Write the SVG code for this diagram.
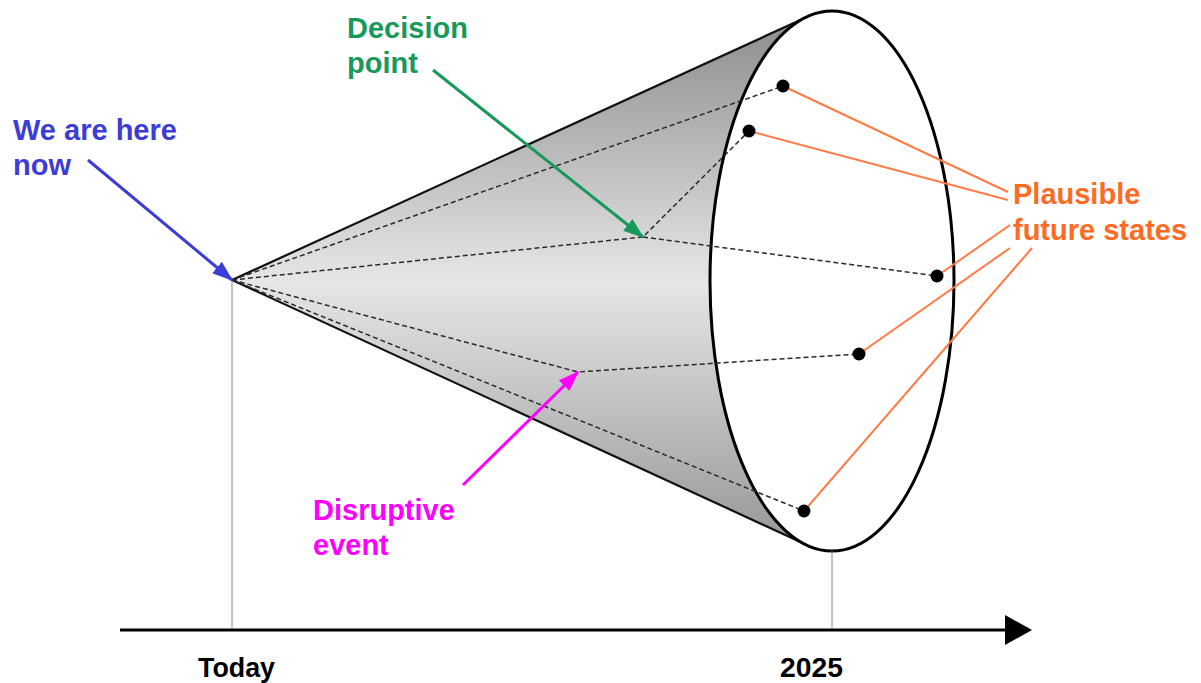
<svg xmlns="http://www.w3.org/2000/svg" width="1201" height="683" viewBox="0 0 1201 683">
<style>
.lbl{font-family:"Liberation Sans",Arial,sans-serif;font-weight:bold;font-size:29px}
.ax{font-family:"Liberation Sans",Arial,sans-serif;font-weight:bold;font-size:27px;fill:#000}
.dash{fill:none;stroke:#2a2a2a;stroke-width:1.5;stroke-dasharray:5 3}
.edge{fill:none;stroke:#111;stroke-width:2.2}
.orange{fill:none;stroke:#FF7A45;stroke-width:2}
.guide{fill:none;stroke:#888;stroke-width:1}
.dot{fill:#000}
</style>
<defs>
<linearGradient id="coneGrad" gradientUnits="userSpaceOnUse" x1="0" y1="17" x2="0" y2="545">
<stop offset="0" stop-color="#8c8c8c"/>
<stop offset="0.5" stop-color="#e6e6e6"/>
<stop offset="1" stop-color="#979797"/>
</linearGradient>
<marker id="arBlue" viewBox="0 0 14 10" refX="13" refY="5" markerWidth="7" markerHeight="5" orient="auto" markerUnits="strokeWidth"><path d="M0,0 L14,5 L0,10 z" fill="#3C3CD8"/></marker>
<marker id="arGreen" viewBox="0 0 14 10" refX="13" refY="5" markerWidth="7" markerHeight="5" orient="auto" markerUnits="strokeWidth"><path d="M0,0 L14,5 L0,10 z" fill="#17995A"/></marker>
<marker id="arMag" viewBox="0 0 14 10" refX="13" refY="5" markerWidth="7" markerHeight="5" orient="auto" markerUnits="strokeWidth"><path d="M0,0 L14,5 L0,10 z" fill="#FF00FF"/></marker>
</defs>
<rect width="1201" height="683" fill="#fff"/>

<g id="cone">
<path d="M232,280 L807,17 A122,270 0 0 0 807,545 Z" fill="url(#coneGrad)" stroke="none"/>
<line class="edge" x1="232" y1="280" x2="807" y2="17"/>
<line class="edge" x1="232" y1="280" x2="807" y2="545"/>
<ellipse cx="832" cy="281" rx="122" ry="270" fill="#fff" stroke="#000" stroke-width="3"/>
</g>

<g id="guides">
<line class="guide" x1="232" y1="280" x2="232" y2="630"/>
<line class="guide" x1="832" y1="551" x2="832" y2="630"/>
</g>

<g id="axis">
<line x1="120" y1="630" x2="1008" y2="630" stroke="#000" stroke-width="3"/>
<path d="M1005,615 L1032,630 L1005,645 Z" fill="#000"/>
<text class="ax" x="198" y="677" textLength="77" lengthAdjust="spacingAndGlyphs">Today</text>
<text class="ax" x="780" y="677" textLength="63" lengthAdjust="spacingAndGlyphs">2025</text>
</g>

<g id="connectors">
<path class="dash" d="M232,280 L783,86"/>
<path class="dash" d="M232,280 L643,237 L749,131"/>
<path class="dash" d="M643,237 L937,276"/>
<path class="dash" d="M232,280 L578,372 L859,354"/>
<path class="dash" d="M232,280 L804,511"/>
<line class="orange" x1="783" y1="86" x2="1008" y2="192"/>
<line class="orange" x1="749" y1="131" x2="1008" y2="200"/>
<line class="orange" x1="937" y1="276" x2="1010" y2="225"/>
<line class="orange" x1="859" y1="354" x2="1010" y2="248"/>
<line class="orange" x1="804" y1="511" x2="1032" y2="248"/>
<line x1="88" y1="160" x2="232" y2="280" stroke="#3C3CD8" stroke-width="3" marker-end="url(#arBlue)"/>
<line x1="433" y1="70" x2="643" y2="237" stroke="#17995A" stroke-width="3" marker-end="url(#arGreen)"/>
<line x1="463" y1="485" x2="578" y2="372" stroke="#FF00FF" stroke-width="3" marker-end="url(#arMag)"/>
</g>

<g id="states">
<circle class="dot" cx="783" cy="86" r="6.5"/>
<circle class="dot" cx="749" cy="131" r="6.5"/>
<circle class="dot" cx="937" cy="276" r="6.5"/>
<circle class="dot" cx="859" cy="354" r="6.5"/>
<circle class="dot" cx="804" cy="511" r="6.5"/>
</g>

<g id="label-now"><text class="lbl" fill="#3C3CD8" x="13" y="140">We are here</text><text class="lbl" fill="#3C3CD8" x="13" y="175">now</text></g>
<g id="label-decision"><text class="lbl" fill="#17995A" x="347" y="38">Decision</text><text class="lbl" fill="#17995A" x="347" y="73">point</text></g>
<g id="label-disruptive"><text class="lbl" fill="#FF00FF" x="313" y="520">Disruptive</text><text class="lbl" fill="#FF00FF" x="313" y="555">event</text></g>
<g id="label-plausible"><text class="lbl" fill="#FF6B22" x="1013" y="204">Plausible</text><text class="lbl" fill="#FF6B22" x="1013" y="240">future states</text></g>
</svg>
